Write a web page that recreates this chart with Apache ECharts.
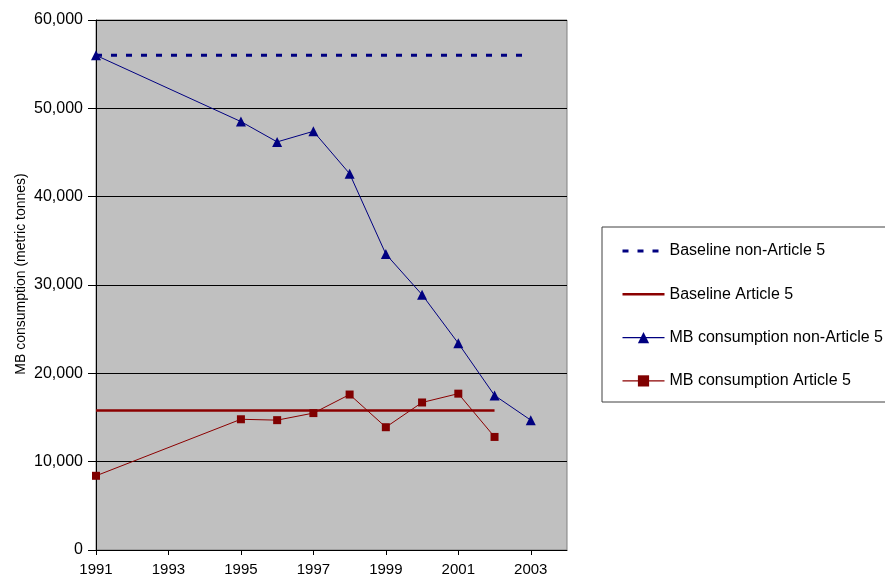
<!DOCTYPE html>
<html><head><meta charset="utf-8">
<script src="https://cdn.jsdelivr.net/npm/echarts@6/dist/echarts.min.js"></script>
<style>html,body{margin:0;padding:0;background:#fff}#c{width:885px;height:580px}</style>
</head><body><div id="c"></div>
<script>
const baselineYearsNonA5 = [1991, 2003];
const baselineNonA5 = [56000, 56000];
const baselineYearsA5 = [1991, 2002];
const baselineA5 = [15800, 15800];
const yearsNonA5 = [1991, 1995, 1996, 1997, 1998, 1999, 2000, 2001, 2002, 2003];
const mbNonA5 = [56000, 48500, 46200, 47400, 42600, 33500, 28900, 23400, 17500, 14700];
const yearsA5 = [1991, 1995, 1996, 1997, 1998, 1999, 2000, 2001, 2002];
const mbA5 = [8400, 14800, 14700, 15500, 17600, 13900, 16700, 17700, 12800];
const seriesNames = ['Baseline non-Article 5', 'Baseline Article 5', 'MB consumption non-Article 5', 'MB consumption Article 5'];

const pairs = (xs, ys) => xs.map((x, i) => [x, ys[i]]);
const font = 'Liberation Sans, Arial, sans-serif';
const chart = echarts.init(document.getElementById('c'), null, {renderer: 'canvas'});
chart.setOption({
  animation: false,
  backgroundColor: '#ffffff',
  textStyle: {fontFamily: font},
  grid: {left: 96, right: 318, top: 20, bottom: 30, show: true, backgroundColor: '#c0c0c0', borderColor: '#808080', borderWidth: 1},
  graphic: [{type: 'rect', shape: {x: 602, y: 227, width: 300, height: 175}, style: {fill: '#fff', stroke: '#404040', lineWidth: 1}, z: -1}],
  legend: {
    orient: 'vertical', left: 616, top: 238, itemWidth: 42, itemHeight: 14, itemGap: 27.3,
    textStyle: {fontFamily: font, fontSize: 16, lineHeight: 16, color: '#000'},
    data: [
      {name: seriesNames[0], itemStyle: {color: 'transparent', borderWidth: 0}, lineStyle: {color: '#000080', width: 3, type: [6, 9]}},
      {name: seriesNames[1], itemStyle: {color: 'transparent', borderWidth: 0}, lineStyle: {color: '#8b0000', width: 2.5}},
      {name: seriesNames[2], lineStyle: {color: '#000080', width: 1.2}},
      {name: seriesNames[3], lineStyle: {color: '#8b0000', width: 1.2}}
    ]
  },
  xAxis: {
    type: 'value', min: 1991, max: 2004, interval: 2,
    axisLine: {lineStyle: {color: '#000', width: 1}},
    axisTick: {show: true, inside: false, length: 5, lineStyle: {color: '#000'}},
    axisLabel: {color: '#000', fontSize: 15, fontFamily: font, margin: 12, showMaxLabel: false, formatter: v => String(v)},
    splitLine: {show: false}
  },
  yAxis: {
    type: 'value', min: 0, max: 60000, interval: 10000,
    name: 'MB consumption (metric tonnes)', nameLocation: 'middle', nameGap: 68, nameMoveOverlap: false,
    nameTextStyle: {color: '#000', fontSize: 14, fontFamily: font, padding: [0, 0, 0, 22]},
    axisLine: {show: true, lineStyle: {color: '#000', width: 1}},
    axisTick: {show: true, inside: false, length: 8, lineStyle: {color: '#000'}},
    axisLabel: {color: '#000', fontSize: 16, fontFamily: font, margin: 13, formatter: v => v.toLocaleString('en-US')},
    splitLine: {show: true, lineStyle: {color: '#000', width: 1}}
  },
  series: [
    {name: seriesNames[0], type: 'line', data: pairs(baselineYearsNonA5, baselineNonA5), symbol: 'none', showSymbol: false,
     lineStyle: {color: '#000080', width: 3, type: [6, 9]}, itemStyle: {color: '#000080'}, z: 2},
    {name: seriesNames[1], type: 'line', data: pairs(baselineYearsA5, baselineA5), symbol: 'none', showSymbol: false,
     lineStyle: {color: '#8b0000', width: 2.5}, itemStyle: {color: '#8b0000'}, z: 2},
    {name: seriesNames[2], type: 'line', data: pairs(yearsNonA5, mbNonA5), symbol: 'triangle', symbolSize: 10,
     lineStyle: {color: '#000080', width: 1}, itemStyle: {color: '#000080'}, z: 3},
    {name: seriesNames[3], type: 'line', data: pairs(yearsA5, mbA5), symbol: 'rect', symbolSize: 8,
     lineStyle: {color: '#8b0000', width: 1}, itemStyle: {color: '#800000'}, z: 3}
  ]
});
</script></body></html>
